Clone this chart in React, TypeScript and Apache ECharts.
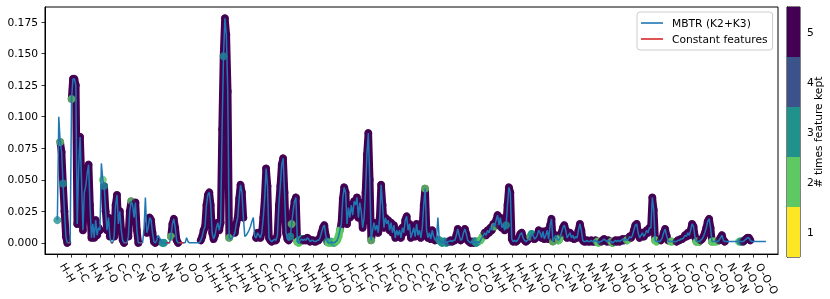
import React, { useEffect, useRef } from 'react';
import * as echarts from 'echarts';

const pairLabels = ['H-H', 'H-C', 'H-N', 'H-O', 'C-C', 'C-N', 'C-O', 'N-N', 'N-O', 'O-O'];
const tripletLabels = [
  'H-H-H', 'H-H-C', 'H-H-N', 'H-H-O', 'C-H-C', 'C-H-N', 'C-H-O', 'N-H-N', 'N-H-O', 'O-H-O',
  'H-C-H', 'H-C-C', 'H-C-N', 'H-C-O', 'C-C-C', 'C-C-N', 'C-C-O', 'N-C-N', 'N-C-O', 'O-C-O',
  'H-N-H', 'H-N-C', 'H-N-N', 'H-N-O', 'C-N-C', 'C-N-N', 'C-N-O', 'N-N-N', 'N-N-O', 'O-N-O',
  'H-O-H', 'H-O-C', 'H-O-N', 'H-O-O', 'C-O-C', 'C-O-N', 'C-O-O', 'N-O-N', 'N-O-O', 'O-O-O',
];

// MBTR K2 values, 10 samples per element pair
const k2Values: number[][] = [
  [0.018, 0.100, 0.080, 0.072, 0.047, 0.025, 0.005, 0.0, 0.0, 0.0],
  [0.114, 0.130, 0.130, 0.125, 0.015, 0.060, 0.084, 0.050, 0.010, 0.040],
  [0.045, 0.055, 0.062, 0.030, 0.004, 0.015, 0.004, 0.018, 0.006, 0.012],
  [0.010, 0.063, 0.050, 0.045, 0.025, 0.010, 0.020, 0.005, 0.0, 0.0],
  [0.005, 0.030, 0.038, 0.015, 0.025, 0.010, 0.002, 0.0, 0.0, 0.0],
  [0.005, 0.025, 0.033, 0.030, 0.020, 0.032, 0.010, 0.0, 0.0, 0.0],
  [0.0, 0.010, 0.036, 0.008, 0.012, 0.020, 0.018, 0.008, 0.001, 0.0],
  [0.002, 0.006, 0.004, 0.001, 0.0, 0.0, 0.0, 0.0, 0.0, 0.0],
  [0.005, 0.015, 0.019, 0.012, 0.002, 0.0, 0.0, 0.0, 0.0, 0.0],
  [0.0, 0.004, 0.001, 0.0, 0.0, 0.0, 0.0, 0.0, 0.0, 0.0],
];

// MBTR K3 values, 10 samples per element triplet
const k3Values: number[][] = [
  [0.0, 0.002, 0.005, 0.010, 0.013, 0.030, 0.038, 0.040, 0.030, 0.008],
  [0.003, 0.006, 0.012, 0.016, 0.010, 0.016, 0.090, 0.148, 0.178, 0.165],
  [0.120, 0.004, 0.003, 0.004, 0.005, 0.008, 0.015, 0.020, 0.035, 0.046],
  [0.040, 0.020, 0.005, 0.006, 0.008, 0.010, 0.013, 0.017, 0.020, 0.005],
  [0.004, 0.008, 0.006, 0.004, 0.008, 0.020, 0.035, 0.059, 0.045, 0.004],
  [0.002, 0.001, 0.002, 0.003, 0.002, 0.006, 0.030, 0.045, 0.062, 0.067],
  [0.040, 0.008, 0.003, 0.002, 0.005, 0.015, 0.025, 0.033, 0.036, 0.001],
  [0.0, 0.002, 0.003, 0.002, 0.003, 0.002, 0.004, 0.003, 0.001, 0.002],
  [0.002, 0.001, 0.001, 0.002, 0.002, 0.004, 0.008, 0.012, 0.014, 0.006],
  [0.001, 0.0, 0.0, 0.001, 0.0, 0.0, 0.001, 0.002, 0.005, 0.010],
  [0.015, 0.035, 0.044, 0.040, 0.015, 0.028, 0.020, 0.030, 0.022, 0.033],
  [0.030, 0.036, 0.020, 0.032, 0.025, 0.012, 0.020, 0.040, 0.070, 0.087],
  [0.050, 0.002, 0.010, 0.016, 0.010, 0.014, 0.008, 0.020, 0.046, 0.030],
  [0.012, 0.020, 0.015, 0.018, 0.010, 0.016, 0.008, 0.014, 0.004, 0.010],
  [0.006, 0.010, 0.004, 0.012, 0.008, 0.018, 0.021, 0.010, 0.015, 0.004],
  [0.008, 0.012, 0.005, 0.015, 0.006, 0.010, 0.004, 0.012, 0.030, 0.043],
  [0.010, 0.004, 0.008, 0.003, 0.010, 0.005, 0.002, 0.004, 0.020, 0.002],
  [0.001, 0.0, 0.001, 0.001, 0.0, 0.001, 0.001, 0.002, 0.001, 0.002],
  [0.002, 0.006, 0.011, 0.006, 0.002, 0.003, 0.008, 0.011, 0.007, 0.002],
  [0.001, 0.0, 0.001, 0.0, 0.001, 0.0, 0.001, 0.0, 0.002, 0.004],
  [0.006, 0.008, 0.006, 0.010, 0.008, 0.012, 0.010, 0.015, 0.013, 0.018],
  [0.022, 0.014, 0.020, 0.012, 0.015, 0.010, 0.014, 0.030, 0.044, 0.040],
  [0.003, 0.001, 0.002, 0.001, 0.002, 0.004, 0.007, 0.008, 0.004, 0.002],
  [0.001, 0.002, 0.003, 0.005, 0.007, 0.006, 0.003, 0.004, 0.006, 0.010],
  [0.008, 0.004, 0.009, 0.003, 0.006, 0.010, 0.003, 0.014, 0.019, 0.001],
  [0.004, 0.006, 0.003, 0.002, 0.004, 0.008, 0.012, 0.014, 0.010, 0.004],
  [0.006, 0.008, 0.004, 0.006, 0.003, 0.005, 0.004, 0.010, 0.015, 0.010],
  [0.002, 0.001, 0.001, 0.002, 0.001, 0.001, 0.002, 0.001, 0.001, 0.002],
  [0.001, 0.0, 0.001, 0.001, 0.002, 0.003, 0.002, 0.001, 0.002, 0.001],
  [0.001, 0.0, 0.001, 0.002, 0.001, 0.002, 0.001, 0.002, 0.003, 0.002],
  [0.003, 0.002, 0.003, 0.005, 0.004, 0.006, 0.010, 0.014, 0.015, 0.008],
  [0.004, 0.006, 0.008, 0.005, 0.007, 0.010, 0.008, 0.012, 0.012, 0.036],
  [0.026, 0.002, 0.001, 0.001, 0.001, 0.002, 0.004, 0.008, 0.011, 0.006],
  [0.002, 0.001, 0.001, 0.001, 0.001, 0.001, 0.001, 0.002, 0.002, 0.003],
  [0.003, 0.004, 0.006, 0.005, 0.008, 0.006, 0.010, 0.015, 0.013, 0.005],
  [0.001, 0.001, 0.001, 0.002, 0.003, 0.005, 0.008, 0.012, 0.017, 0.019],
  [0.012, 0.001, 0.001, 0.001, 0.001, 0.001, 0.002, 0.004, 0.006, 0.002],
  [0.001, 0.001, 0.001, 0.001, 0.001, 0.001, 0.001, 0.001, 0.001, 0.001],
  [0.001, 0.001, 0.001, 0.001, 0.002, 0.003, 0.004, 0.004, 0.002, 0.001],
  [0.001, 0.001, 0.001, 0.001, 0.001, 0.001, 0.001, 0.001, 0.001, 0.001],
];

// times each feature was kept (0 = never), 'c' = constant feature
const k2Kept: string[] = [
  '30253555cc', '2555555555', '5555555555', '50235555cc', '55555555cc',
  '55255555cc', '0005555555', '5000330ccc', '255555cccc', '0000000000',
];
const k3Kept: string[] = [
  '0555555555', '5555555355', '5200055555', '5500000000', '5555555555',
  '5555555555', '5555325552', '2335555555', '5555555555', '3223232222',
  '5555555555', '5555555555', '5255555555', '5555555555', '5555555555',
  '5555555552', '5555555003', '3333344555', '5555555555', '5555333022',
  '2555555525', '5555553555', '5555555555', '5552335555', '5555555552',
  '5552255555', '5555555555', '5555555555', '2225555555', '2255555555',
  '5225555555', '5555555555', '5220055555', '5022005555', '5555555555',
  '2225555555', '5222205555', '5000000000', '2335555550', '0000000000',
];

const keptLevels = ['1', '2', '3', '4', '5'];
const keptColors = ['#fde725', '#5ec962', '#21918c', '#3b528b', '#440154'];
const yTicks = [0, 0.025, 0.05, 0.075, 0.1, 0.125, 0.15, 0.175];

export default function App() {
  const ref = useRef<HTMLDivElement>(null);

  useEffect(() => {
    if (!ref.current) return;
    const chart = echarts.init(ref.current, undefined, { renderer: 'svg' });

    const labels = [...pairLabels, ...tripletLabels];
    const segValues = [...k2Values, ...k3Values];
    const segKept = [...k2Kept, ...k3Kept];
    const perSeg = 10;

    const xs: number[] = [];
    const ys: number[] = [];
    const levels: number[] = [];
    const isConst: boolean[] = [];
    segValues.forEach((seg, k) => {
      seg.forEach((v, j) => {
        xs.push(k + j / perSeg);
        ys.push(v);
        const code = segKept[k][j];
        isConst.push(code === 'c');
        levels.push(code === 'c' ? 0 : Number(code));
      });
    });

    const lineData = xs.map((x, i) => [x, ys[i]]);
    const constData = xs.map((x, i) => [x, isConst[i] ? 0 : null]);
    const scatterData = xs
      .map((x, i) => ({ i, x }))
      .filter(({ i }) => levels[i] > 0)
      .map(({ i, x }) => ({ value: [x, ys[i]], itemStyle: { color: keptColors[levels[i] - 1] } }));

    // dense bands of overlapping kept markers, one per level
    const bandData = keptLevels.map((_, li) => {
      const L = li + 1;
      return xs.map((x, i) => {
        const own = levels[i] === L;
        const joined =
          L === 5 && levels[i] > 0 && (levels[i - 1] === 5 || levels[i + 1] === 5);
        return [x, own || joined ? ys[i] : null];
      });
    });

    const tickVals = Array.from({ length: labels.length + 1 }, (_, i) => i);
    const labelVals = labels.map((_, i) => i + 0.37);

    const font = 'DejaVu Sans';
    const fs = 10.7;

    const bandSeries = [4, 0, 1, 2, 3].map((li) => ({
      name: 'kept-band-' + keptLevels[li],
      type: 'line',
      xAxisIndex: 0,
      yAxisIndex: 0,
      data: bandData[li],
      connectNulls: false,
      symbol: 'none',
      silent: true,
      lineStyle: { color: keptColors[li], width: 7.5, cap: 'round', join: 'round' },
      z: 1,
    }));

    const option: any = {
      animation: false,
      textStyle: { fontFamily: font },
      grid: [
        { left: 45, top: 7, width: 733, height: 250, show: true, borderColor: '#000', borderWidth: 1, backgroundColor: 'transparent' },
        { left: 787, top: 7, width: 13, height: 250, show: true, borderColor: '#000', borderWidth: 1 },
      ],
      legend: {
        data: [
          { name: 'MBTR (K2+K3)', icon: 'rect' },
          { name: 'Constant features', icon: 'rect' },
        ],
        orient: 'vertical',
        left: 637,
        top: 12,
        padding: [5, 5, 5, 4],
        itemWidth: 22,
        itemHeight: 1.6,
        itemGap: 4,
        backgroundColor: '#fff',
        borderColor: '#ccc',
        borderWidth: 1,
        borderRadius: 3,
        textStyle: { fontFamily: font, fontSize: fs, color: '#000', padding: [0, 0, 0, 4], lineHeight: 12 },
      },
      xAxis: [
        {
          type: 'value',
          gridIndex: 0,
          min: -0.87,
          max: 50.75,
          axisLine: { show: true, onZero: false, lineStyle: { color: '#000', width: 1 } },
          splitLine: { show: false },
          axisTick: { show: true, customValues: tickVals, length: 3.5, lineStyle: { color: '#000', width: 0.8 } },
          axisLabel: {
            customValues: labelVals,
            rotate: -60,
            margin: 10,
            fontSize: fs,
            color: '#000',
            fontFamily: font,
            formatter: (v: number) => labels[Math.floor(v)] ?? '',
          },
        },
        { type: 'value', gridIndex: 1, min: 0, max: 1, show: false },
      ],
      yAxis: [
        {
          type: 'value',
          gridIndex: 0,
          min: -0.0089,
          max: 0.187,
          axisLine: { show: true, onZero: false, lineStyle: { color: '#000', width: 1 } },
          splitLine: { show: false },
          axisTick: { show: true, customValues: yTicks, length: 3.5, lineStyle: { color: '#000', width: 0.8 } },
          axisLabel: {
            customValues: yTicks,
            margin: 7,
            fontSize: fs,
            color: '#000',
            fontFamily: font,
            formatter: (v: number) => v.toFixed(3),
          },
        },
        {
          type: 'category',
          gridIndex: 1,
          data: keptLevels,
          position: 'right',
          boundaryGap: true,
          axisLine: { show: true, lineStyle: { color: '#000', width: 1 } },
          axisTick: { show: true, alignWithLabel: true, length: 3.5, lineStyle: { color: '#000', width: 0.8 } },
          axisLabel: { margin: 7, fontSize: fs, color: '#000', fontFamily: font },
          splitLine: { show: false },
          name: '# times feature kept',
          nameLocation: 'middle',
          nameRotate: 90,
          nameGap: 13,
          nameMoveOverlap: false,
          nameTextStyle: { fontSize: fs, color: '#000', fontFamily: font },
        },
      ],
      series: [
        ...bandSeries,
        {
          name: 'kept',
          type: 'scatter',
          xAxisIndex: 0,
          yAxisIndex: 0,
          data: scatterData,
          symbolSize: 8,
          z: 2,
          silent: true,
        },
        {
          name: 'MBTR (K2+K3)',
          type: 'line',
          xAxisIndex: 0,
          yAxisIndex: 0,
          data: lineData,
          symbol: 'none',
          lineStyle: { color: '#1f77b4', width: 1.5 },
          itemStyle: { color: '#1f77b4' },
          z: 3,
        },
        {
          name: 'Constant features',
          type: 'line',
          xAxisIndex: 0,
          yAxisIndex: 0,
          data: constData,
          connectNulls: false,
          symbol: 'none',
          lineStyle: { color: '#d62728', width: 1.5 },
          itemStyle: { color: '#d62728' },
          z: 4,
        },
        {
          name: 'colorbar',
          type: 'bar',
          xAxisIndex: 1,
          yAxisIndex: 1,
          barCategoryGap: 0,
          barWidth: '100%',
          data: keptLevels.map((_, i) => ({ value: 1, itemStyle: { color: keptColors[i] } })),
          silent: true,
          z: 1,
        },
      ],
    };

    chart.setOption(option);
    return () => chart.dispose();
  }, []);

  return <div ref={ref} style={{ position: 'fixed', left: 0, top: 0, width: 830, height: 299 }} />;
}
